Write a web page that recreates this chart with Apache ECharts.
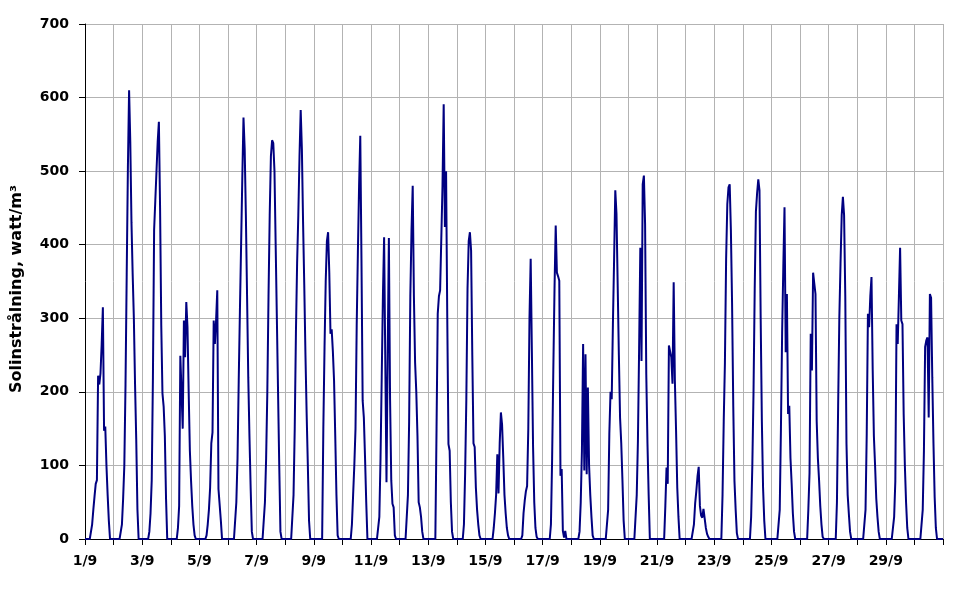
<!DOCTYPE html>
<html>
<head>
<meta charset="utf-8">
<script src="https://cdn.jsdelivr.net/npm/echarts@6/dist/echarts.min.js"></script>
<style>
  html, body { margin: 0; padding: 0; background: #fff; }
  #chart { width: 969px; height: 592px; }
</style>
</head>
<body>
<div id="chart"></div>
<script>
// Hourly solar radiation (W/m²), hours 0..23 of each day in September
const day01 = [0,0,0,0,0,0,20,40,58,75,80,222,210,225,265,315,147,153,100,60,25,0,0,0];
const day02 = [0,0,0,0,0,0,0,20,55,100,210,360,505,610,540,430,360,300,210,135,40,0,0,0];
const day03 = [0,0,0,0,0,0,10,35,80,220,420,460,500,540,567,450,290,198,180,140,55,0,0,0];
const day04 = [0,0,0,0,0,0,15,45,249,200,150,297,247,322,288,200,120,79,45,20,5,0,0,0];
const day05 = [0,0,0,0,0,0,5,20,40,70,130,145,297,265,297,338,68,66,25,0,0,0,0,0];
const day06 = [0,0,0,0,0,0,0,50,110,215,310,400,490,573,530,440,330,220,140,70,10,0,0,0];
const day07 = [0,0,0,0,0,0,0,50,110,200,330,440,520,542,538,500,400,300,200,100,10,0,0,0];
const day08 = [0,0,0,0,0,0,0,60,150,280,375,440,520,583,530,430,345,250,170,100,25,0,0,0];
const day09 = [0,0,0,0,0,0,0,0,150,260,350,405,417,362,279,285,255,215,140,60,5,0,0,0];
const day10 = [0,0,0,0,0,0,0,0,20,60,100,150,290,390,480,548,380,188,165,110,50,0,0,0];
const day11 = [0,0,0,0,0,0,0,30,110,220,330,410,240,77,250,409,190,80,48,43,5,0,0,0];
const day12 = [0,0,0,0,0,0,0,60,160,330,420,480,330,240,200,140,50,43,30,10,0,0,0,0];
const day13 = [0,0,0,0,0,0,0,150,306,330,338,340,480,591,424,500,300,129,120,50,10,0,0,0];
const day14 = [0,0,0,0,0,0,20,90,190,340,405,417,392,250,130,125,70,40,20,5,0,0,0,0];
const day15 = [0,0,0,0,0,0,0,15,35,60,115,62,130,172,155,110,60,35,15,5,0,0,0,0];
const day16 = [0,0,0,0,0,0,0,5,35,52,65,72,150,300,381,255,125,50,15,3,0,0,0,0];
const day17 = [0,0,0,0,0,0,0,20,110,230,340,426,362,357,351,86,95,11,2,11,0,0,0,0];
const day18 = [0,0,0,0,0,0,0,10,50,120,265,93,251,88,206,100,60,30,5,0,0,0,0,0];
const day19 = [0,0,0,0,0,0,0,40,143,200,190,292,380,474,442,440,250,165,130,80,25,0,0,0];
const day20 = [0,0,0,0,0,0,0,60,134,260,396,242,482,494,428,224,130,60,0,0,0,0,0,0];
const day21 = [0,0,0,0,0,0,0,45,97,75,263,255,247,211,349,215,147,70,30,0,0,0,0,0];
const day22 = [0,0,0,0,0,0,0,20,48,65,85,98,45,32,29,41,43,15,7,3,0,0,0,0];
const day23 = [0,0,0,0,0,0,0,60,160,240,380,455,478,482,420,320,180,79,40,8,0,0,0,0];
const day24 = [0,0,0,0,0,0,0,30,100,200,340,445,470,489,474,300,160,70,25,0,0,0,0,0];
const day25 = [0,0,0,0,0,0,0,40,150,280,370,451,254,333,170,181,110,75,35,10,0,0,0,0];
const day26 = [0,0,0,0,0,0,0,40,90,279,229,362,347,333,160,110,80,45,20,3,0,0,0,0];
const day27 = [0,0,0,0,0,0,0,50,180,300,374,440,465,440,330,130,60,34,10,0,0,0,0,0];
const day28 = [0,0,0,0,0,0,0,40,143,306,288,330,356,230,140,100,55,30,10,0,0,0,0,0];
const day29 = [0,0,0,0,0,0,0,30,79,292,265,330,396,297,292,170,100,50,15,0,0,0,0,0];
const day30 = [0,0,0,0,0,0,0,40,120,261,270,274,165,333,328,220,130,57,15,0,0,0,0,0];

// x-axis tick labels (every second day)
const xTickLabels = ['1/9','3/9','5/9','7/9','9/9','11/9','13/9','15/9','17/9','19/9','21/9','23/9','25/9','27/9','29/9'];
const yAxisTitle = 'Solinstrålning, watt/m³';

const days = [day01,day02,day03,day04,day05,day06,day07,day08,day09,day10,
              day11,day12,day13,day14,day15,day16,day17,day18,day19,day20,
              day21,day22,day23,day24,day25,day26,day27,day28,day29,day30];

const seriesData = [];
days.forEach((arr, d) => arr.forEach((v, h) => seriesData.push([d * 24 + h, v])));
seriesData.push([days.length * 24, 0]);

const chart = echarts.init(document.getElementById('chart'), null, { renderer: 'canvas' });
const labelFont = { fontFamily: '"DejaVu Sans", Verdana, sans-serif', fontWeight: 'bold', fontSize: 14, color: '#000' };

chart.setOption({
  animation: false,
  backgroundColor: '#fff',
  grid: { left: 85, right: 26, top: 24, bottom: 53, containLabel: false },
  xAxis: {
    type: 'value',
    min: 0, max: 720, interval: 24,
    axisLine: { show: true, lineStyle: { color: '#000', width: 1 } },
    axisTick: { show: true, length: 6, inside: false, lineStyle: { color: '#000' } },
    axisLabel: Object.assign({
      margin: 15,
      showMinLabel: true, showMaxLabel: true,
      formatter: function (v) {
        if (v % 48 !== 0) return '';
        const i = v / 48;
        return i < xTickLabels.length ? xTickLabels[i] : '';
      }
    }, labelFont),
    splitLine: { show: true, lineStyle: { color: '#b3b3b3', width: 1 } }
  },
  yAxis: {
    type: 'value',
    min: 0, max: 700, interval: 100,
    axisLine: { show: true, lineStyle: { color: '#000', width: 1 } },
    axisTick: { show: true, length: 6, lineStyle: { color: '#000' } },
    axisLabel: Object.assign({ margin: 16 }, labelFont),
    splitLine: { show: true, lineStyle: { color: '#b3b3b3', width: 1 } }
  },
  graphic: [{
    type: 'text',
    x: 17, y: 289,
    rotation: Math.PI / 2,
    style: {
      text: yAxisTitle,
      font: 'bold 16px "DejaVu Sans", Verdana, sans-serif',
      fill: '#000',
      align: 'center', verticalAlign: 'middle',
      textAlign: 'center', textVerticalAlign: 'middle'
    }
  }],
  series: [{
    type: 'line',
    data: seriesData,
    showSymbol: false,
    symbol: 'none',
    lineStyle: { color: '#000080', width: 2 },
    itemStyle: { color: '#000080' }
  }]
});
</script>
</body>
</html>
